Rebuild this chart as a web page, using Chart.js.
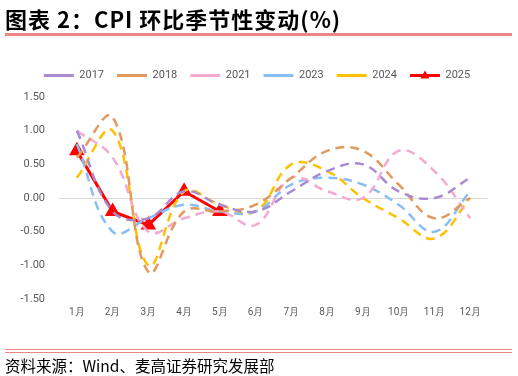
<!DOCTYPE html>
<html>
<head>
<meta charset="utf-8">
<script src="https://cdn.jsdelivr.net/npm/chart.js@4"></script>
<style>
  body { margin: 0; background: #fff; }
  #wrap { position: relative; width: 518px; height: 376px; overflow: hidden; }
  #chart { position: absolute; left: 0; top: 0; }
  .title { position: absolute; left: 5px; top: 2px; font-family: "Noto Sans CJK SC"; font-weight: bold; font-size: 22px; letter-spacing: 1px; color: #000; white-space: nowrap; }
  .topline { position: absolute; left: 5px; top: 33px; width: 507px; height: 3px; background: #EC8585; }
  .botline1 { position: absolute; left: 5px; top: 349px; width: 507px; height: 1px; background: #EC8585; }
  .botline2 { position: absolute; left: 5px; top: 352px; width: 507px; height: 1px; background: #EC8585; }
  .source { position: absolute; left: 5px; top: 354px; font-family: "Noto Sans CJK SC"; font-size: 15.5px; color: #000; white-space: nowrap; }
</style>
</head>
<body>
<div id="wrap">
  <canvas id="chart" width="518" height="376"></canvas>
  <div class="title">图表 2：CPI 环比季节性变动(%)</div>
  <div class="topline"></div>
  <div class="botline1"></div>
  <div class="botline2"></div>
  <div class="source">资料来源：Wind、麦高证券研究发展部</div>
</div>
<script>
// 月份
const months = ['1月', '2月', '3月', '4月', '5月', '6月', '7月', '8月', '9月', '10月', '11月', '12月']

// 各年 CPI 环比 (%)
const cpi2017 = [1.0, -0.2, -0.3, 0.1, -0.1, -0.2, 0.1, 0.4, 0.5, 0.1, 0.0, 0.3]
const cpi2018 = [0.6, 1.2, -1.1, -0.2, -0.2, -0.1, 0.3, 0.7, 0.7, 0.2, -0.3, 0.0]
const cpi2021 = [1.0, 0.6, -0.5, -0.3, -0.2, -0.4, 0.3, 0.1, 0.0, 0.7, 0.4, -0.3]
const cpi2023 = [0.8, -0.5, -0.3, -0.1, -0.2, -0.2, 0.2, 0.3, 0.2, -0.1, -0.5, 0.1]
const cpi2024 = [0.3, 1.0, -1.0, 0.1, -0.1, -0.2, 0.5, 0.4, 0.0, -0.3, -0.6, 0.0]
const cpi2025 = [0.7, -0.2, -0.4, 0.1, -0.2]

function dashed(label, values, color) {
    return {
        label: label,
        data: values,
        borderColor: color,
        backgroundColor: color,
        borderWidth: 2.5,
        borderDash: [9, 6],
        tension: 0.4,
        pointRadius: 0
    }
}

const data = {
    labels: months,
    datasets: [
        dashed('2017', cpi2017, '#A88BD0'),
        dashed('2018', cpi2018, '#E29A5C'),
        dashed('2021', cpi2021, '#F5A9D0'),
        dashed('2023', cpi2023, '#88BEF5'),
        dashed('2024', cpi2024, '#FFC000'),
        {
            label: '2025',
            data: cpi2025,
            borderColor: '#FF0000',
            backgroundColor: '#FF0000',
            borderWidth: 3,
            tension: 0,
            pointStyle: 'triangle',
            pointRadius: 6,
            pointHoverRadius: 6
        }
    ]
}

// 图例下面多留一点空，整体往右挪一点
const legendSpacing = {
    id: 'legendSpacing',
    beforeInit(chart) {
        const fit = chart.legend.fit
        chart.legend.fit = function () {
            fit.bind(chart.legend)()
            this.height += 6
        }
    },
    afterLayout(chart) {
        chart.legend.left += 13
        chart.legend.right += 13
    }
}

// 图例里 2025 那条线中间的三角
const legendTriangle = {
    id: 'legendTriangle',
    afterDraw(chart) {
        const boxes = chart.legend.legendHitBoxes
        if (!boxes || !boxes[5]) return
        const b = boxes[5]
        const bw = chart.legend.options.labels.boxWidth
        const ctx = chart.ctx
        const cx = b.left + bw / 2
        const cy = b.top + b.height / 2
        ctx.save()
        ctx.fillStyle = '#FF0000'
        ctx.beginPath()
        ctx.moveTo(cx, cy - 5)
        ctx.lineTo(cx + 4.5, cy + 3)
        ctx.lineTo(cx - 4.5, cy + 3)
        ctx.closePath()
        ctx.fill()
        ctx.restore()
    }
}

const config = {
    type: 'line',
    data,
    options: {
        responsive: false,
        animation: false,
        layout: {
            padding: { top: 57, right: 30, bottom: 47, left: 0 }
        },
        plugins: {
            legend: {
                position: 'top',
                labels: {
                    boxWidth: 30,
                    boxHeight: 0,
                    padding: 13,
                    color: '#595959',
                    font: { family: 'Roboto', size: 11 },
                    generateLabels(chart) {
                        return chart.data.datasets.map((ds, i) => ({
                            text: ds.label,
                            fillStyle: ds.borderColor,
                            strokeStyle: ds.borderColor,
                            lineWidth: 3,
                            lineDash: i < 5 ? [10, 10] : [],
                            hidden: false,
                            datasetIndex: i,
                            fontColor: '#595959'
                        }))
                    }
                }
            },
            tooltip: { enabled: false }
        },
        scales: {
            x: {
                offset: true,
                grid: { display: false, drawTicks: false },
                border: { display: false },
                ticks: {
                    color: '#595959',
                    font: { family: 'Roboto', size: 10 },
                    padding: 7,
                    maxRotation: 0,
                    autoSkip: false
                },
                afterFit(scale) { scale.height = 30 }
            },
            y: {
                min: -1.5,
                max: 1.5,
                border: { display: false },
                grid: {
                    drawTicks: false,
                    lineWidth: 1,
                    color: ctx => ctx.tick && ctx.tick.value === 0 ? '#D9D9D9' : 'rgba(0,0,0,0)'
                },
                ticks: {
                    stepSize: 0.5,
                    padding: 14,
                    color: '#595959',
                    font: { family: 'Roboto', size: 11 },
                    callback: v => v.toFixed(2)
                },
                afterFit(scale) { scale.width = 59 }
            }
        }
    },
    plugins: [legendSpacing, legendTriangle]
}

var chart = document.getElementById('chart')
var myChart = new Chart(chart, config)
</script>
</body>
</html>
